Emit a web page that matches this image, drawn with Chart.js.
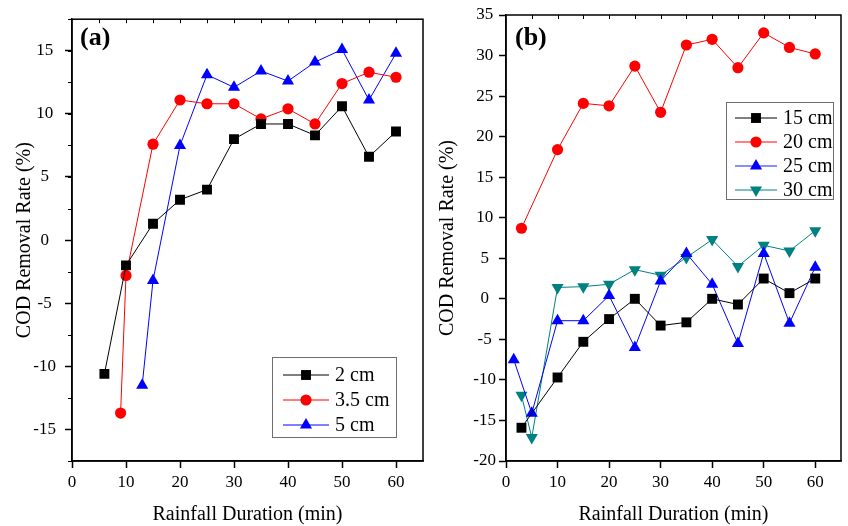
<!DOCTYPE html>
<html>
<head>
<meta charset="utf-8">
<script src="https://cdn.jsdelivr.net/npm/chart.js@4.4.1/dist/chart.umd.min.js"></script>
<style>
  html, body { margin: 0; padding: 0; background: #fff; }
  #wrap { position: relative; width: 848px; height: 526px; }
  .panel { position: absolute; top: 0; height: 526px; }
  #panelA { left: 0; width: 430px; }
  #panelB { left: 430px; width: 418px; }
</style>
</head>
<body>
<div id="wrap">
  <div class="panel" id="panelA"><canvas id="chartA"></canvas></div>
  <div class="panel" id="panelB"><canvas id="chartB"></canvas></div>
</div>
<script>
// COD removal vs rainfall duration, two panels

// (a) layer thickness
const durA2 = [6, 10, 15, 20, 25, 30, 35, 40, 45, 50, 55, 60];
const codA2 = [-10.6, -2.0, 1.3, 3.2, 4.0, 8.0, 9.2, 9.2, 8.3, 10.6, 6.6, 8.6];
const durA35 = [9, 10, 15, 20, 25, 30, 35, 40, 45, 50, 55, 60];
const codA35 = [-13.7, -2.8, 7.6, 11.1, 10.8, 10.8, 9.6, 10.4, 9.2, 12.4, 13.3, 12.9];
const durA5 = [13, 15, 20, 25, 30, 35, 40, 45, 50, 55, 60];
const codA5 = [-11.5, -3.2, 7.5, 13.1, 12.1, 13.4, 12.6, 14.1, 15.1, 11.1, 14.8];
const labelsA = ['2 cm', '3.5 cm', '5 cm'];
const yTicksA = [-15, -10, -5, 0, 5, 10, 15];

// (b) depth
const durB15 = [3, 10, 15, 20, 25, 30, 35, 40, 45, 50, 55, 60];
const codB15 = [-15.9, -9.7, -5.3, -2.5, 0.0, -3.3, -2.9, 0.0, -0.7, 2.5, 0.7, 2.5];
const durB20 = [3, 10, 15, 20, 25, 30, 35, 40, 45, 50, 55, 60];
const codB20 = [8.7, 18.4, 24.1, 23.8, 28.7, 23.0, 31.3, 32.0, 28.5, 32.8, 31.0, 30.2];
const durB25 = [1.5, 5, 10, 15, 20, 25, 30, 35, 40, 45, 50, 55, 60];
const codB25 = [-7.5, -14.1, -2.7, -2.7, 0.4, -6.0, 2.2, 5.6, 1.8, -5.5, 5.6, -3.0, 3.9];
const durB30 = [3, 5, 10, 15, 20, 25, 30, 35, 40, 45, 50, 55, 60];
const codB30 = [-11.9, -17.1, 1.4, 1.5, 1.8, 3.6, 2.9, 5.1, 7.3, 4.0, 6.6, 5.9, 8.4];
const labelsB = ['15 cm', '20 cm', '25 cm', '30 cm'];
const yTicksB = [-20, -15, -10, -5, 0, 5, 10, 15, 20, 25, 30, 35];

const xTicks = [0, 10, 20, 30, 40, 50, 60];

const SERIF = '"Liberation Serif", "Times New Roman", serif';
Chart.defaults.font.family = SERIF;
Chart.defaults.color = '#000';

const toPoints = (xs, ys) => xs.map((x, i) => ({ x, y: ys[i] }));
const fixedTicks = vals => s => { s.ticks = vals.map(value => ({ value })); };

function series(label, xs, ys, color, style, radius, rotation) {
  return {
    label,
    data: toPoints(xs, ys),
    borderColor: color,
    backgroundColor: color,
    pointBackgroundColor: color,
    pointBorderColor: color,
    pointBorderWidth: 0,
    borderWidth: 1,
    pointStyle: style,
    pointRadius: radius,
    pointHoverRadius: radius,
    pointRotation: rotation || 0,
    tension: 0,
    fill: false
  };
}

function marker(ctx, style, rot, r, x, y, color) {
  ctx.save();
  ctx.fillStyle = color;
  ctx.translate(x, y);
  ctx.rotate(rot * Math.PI / 180);
  ctx.beginPath();
  if (style === 'rect') {
    const s = r * Math.SQRT1_2;
    ctx.rect(-s, -s, 2 * s, 2 * s);
  } else if (style === 'triangle') {
    ctx.moveTo(0, -r);
    ctx.lineTo(r * Math.sin(2 * Math.PI / 3), -r * Math.cos(2 * Math.PI / 3));
    ctx.lineTo(r * Math.sin(4 * Math.PI / 3), -r * Math.cos(4 * Math.PI / 3));
    ctx.closePath();
  } else {
    ctx.arc(0, 0, r, 0, Math.PI * 2);
  }
  ctx.fill();
  ctx.restore();
}

// box frame, minor ticks, panel tag and the in-plot legend
const framePlugin = {
  id: 'frame',
  afterDraw(chart, args, opts) {
    const { ctx, chartArea: a, scales } = chart;
    ctx.save();
    ctx.strokeStyle = '#000';
    ctx.lineWidth = 1.5;
    ctx.strokeRect(a.left, a.top, a.right - a.left, a.bottom - a.top);

    // small ticks along the top edge
    ctx.lineWidth = 1;
    for (let v = opts.topStep; v < scales.x.max; v += opts.topStep) {
      const px = Math.round(scales.x.getPixelForValue(v)) + 0.5;
      ctx.beginPath(); ctx.moveTo(px, a.top); ctx.lineTo(px, a.top + 4); ctx.stroke();
    }
    // minor ticks on the left axis
    if (opts.yMinor) {
      for (let v = Math.ceil(scales.y.min / opts.yMinor) * opts.yMinor; v <= scales.y.max; v += opts.yMinor) {
        const py = Math.round(scales.y.getPixelForValue(v)) + 0.5;
        ctx.beginPath(); ctx.moveTo(a.left, py); ctx.lineTo(a.left - 4, py); ctx.stroke();
      }
    }

    ctx.fillStyle = '#000';
    ctx.font = 'bold 26px ' + SERIF;
    ctx.textBaseline = 'middle';
    ctx.textAlign = 'left';
    ctx.fillText(opts.tag, opts.tagX, opts.tagY);

    // legend
    const lg = opts.legend;
    ctx.fillStyle = '#fff';
    ctx.fillRect(lg.x, lg.y, lg.w, lg.h);
    ctx.strokeStyle = '#6e6e6e';
    ctx.lineWidth = 1;
    ctx.strokeRect(lg.x + 0.5, lg.y + 0.5, lg.w, lg.h);
    ctx.font = '20px ' + SERIF;
    chart.data.datasets.forEach((ds, i) => {
      const ry = lg.rowY[i];
      const lineStyle = (lg.lines && lg.lines[i]) || {};
      ctx.strokeStyle = lineStyle.color || ds.borderColor;
      ctx.lineWidth = lineStyle.width || 1;
      ctx.beginPath(); ctx.moveTo(lg.x1, ry); ctx.lineTo(lg.x2, ry); ctx.stroke();
      marker(ctx, ds.pointStyle, ds.pointRotation, ds.pointRadius, (lg.x1 + lg.x2) / 2, ry, ds.backgroundColor);
      ctx.fillStyle = '#000';
      ctx.fillText(ds.label, lg.tx, ry + 1);
    });
    ctx.restore();
  }
};

function panelOptions(cfg) {
  return {
    responsive: true,
    maintainAspectRatio: false,
    animation: false,
    events: [],
    layout: { padding: { left: 0, top: 15, right: cfg.padRight, bottom: 0 } },
    plugins: {
      legend: { display: false },
      tooltip: { enabled: false },
      frame: cfg.frame
    },
    scales: {
      x: {
        type: 'linear',
        min: 0, max: 65,
        afterFit: s => { s.height = 65; },
        afterBuildTicks: fixedTicks(xTicks),
        ticks: { padding: 4, font: { size: 17 }, color: '#000' },
        grid: { drawOnChartArea: false, drawTicks: true, tickLength: 7, tickWidth: 1.5, tickColor: '#000' },
        border: { display: true, color: '#000', width: 1.5 },
        title: {
          display: true, text: 'Rainfall Duration (min)', color: '#000',
          font: { size: 20, lineHeight: 1 }, padding: { top: 0, bottom: 1 }
        }
      },
      y: {
        type: 'linear',
        min: cfg.yMin, max: cfg.yMax,
        afterFit: s => { s.width = cfg.yWidth; },
        afterBuildTicks: fixedTicks(cfg.yTicks),
        ticks: { crossAlign: 'center', padding: cfg.yTickPad, font: { size: 17 }, color: '#000' },
        grid: { drawOnChartArea: false, drawTicks: true, tickLength: 7, tickWidth: 1.5, tickColor: '#000' },
        border: { display: true, color: '#000', width: 1.5 },
        title: {
          display: true, text: 'COD Removal Rate (%)', color: '#000',
          font: { size: 20, lineHeight: 1 }, padding: { top: cfg.yTitlePad, bottom: 0 }
        }
      }
    }
  };
}

new Chart(document.getElementById('chartA'), {
  type: 'line',
  data: {
    datasets: [
      series(labelsA[0], durA2, codA2, '#000000', 'rect', 7),
      series(labelsA[1], durA35, codA35, '#ff0000', 'circle', 5.6),
      series(labelsA[2], durA5, codA5, '#0000ff', 'triangle', 7)
    ]
  },
  options: panelOptions({
    padRight: 7, yMin: -17.5, yMax: 17.5, yTicks: yTicksA, yWidth: 72, yTickPad: 9, yTitlePad: 15,
    frame: {
      topStep: 5, yMinor: 2.5, tag: '(a)', tagX: 80, tagY: 38,
      legend: { x: 272, y: 357, w: 124, h: 80, x1: 283, x2: 329, tx: 335, rowY: [375, 400, 425] }
    }
  }),
  plugins: [framePlugin]
});

new Chart(document.getElementById('chartB'), {
  type: 'line',
  data: {
    datasets: [
      series(labelsB[0], durB15, codB15, '#000000', 'rect', 7),
      series(labelsB[1], durB20, codB20, '#ff0000', 'circle', 5.6),
      series(labelsB[2], durB25, codB25, '#0000ff', 'triangle', 7),
      series(labelsB[3], durB30, codB30, '#008080', 'triangle', 7, 180)
    ]
  },
  options: panelOptions({
    padRight: 4, yMin: -20, yMax: 35, yTicks: yTicksB, yWidth: 76, yTickPad: 3, yTitlePad: 8,
    frame: {
      topStep: 5, yMinor: 0, tag: '(b)', tagX: 85, tagY: 38,
      legend: {
        x: 296, y: 102, w: 107, h: 97, x1: 305, x2: 347, tx: 353, rowY: [118, 142, 166, 190],
        lines: [null, null, { color: '#8c8cff', width: 2 }, null]
      }
    }
  }),
  plugins: [framePlugin]
});
</script>
</body>
</html>
